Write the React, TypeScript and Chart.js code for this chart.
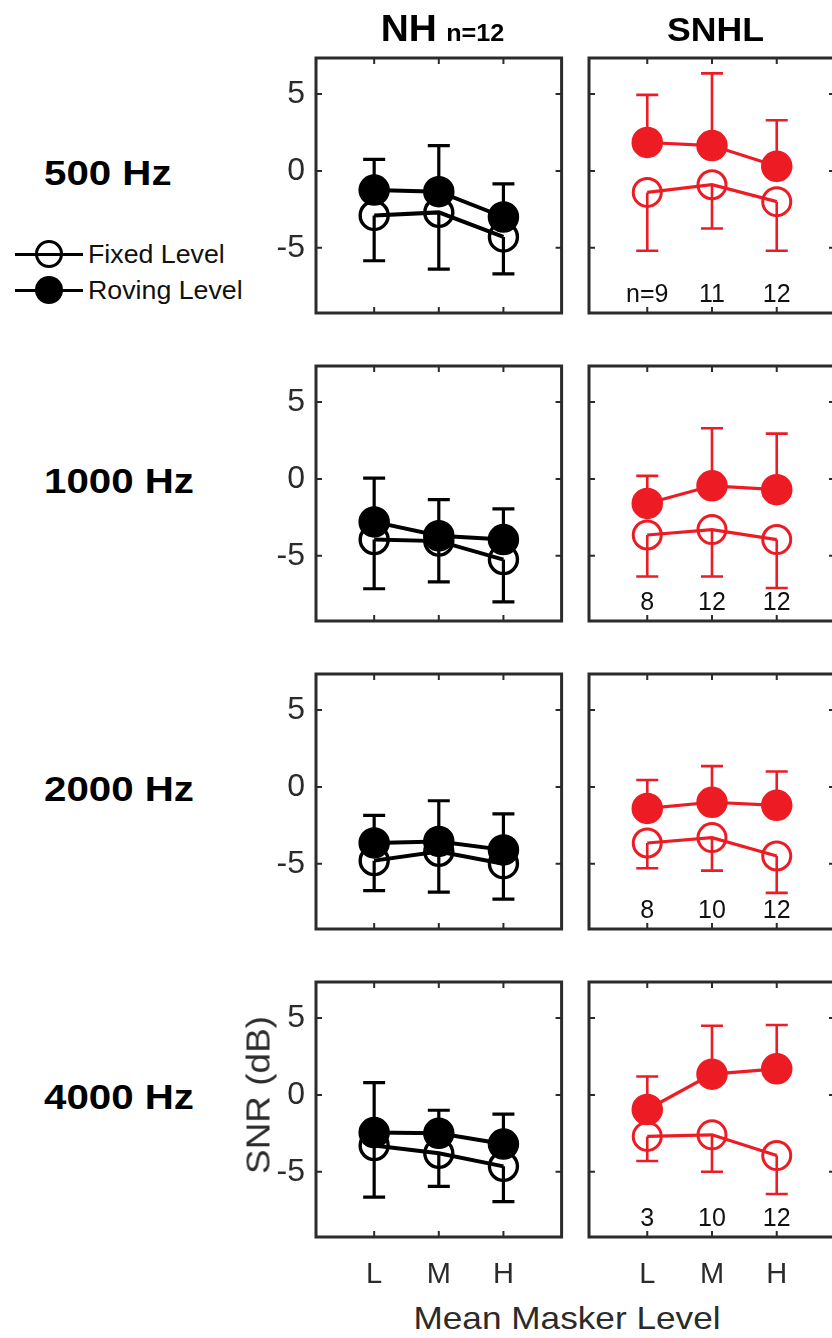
import React, { useEffect, useRef } from 'react';
import { Chart, registerables } from 'chart.js';

Chart.register(...registerables);

// ---------- data ----------
const levels = ['L', 'M', 'H'];
const levelX = [1, 2, 3];
const yTickValues = [-5, 0, 5];
const frequencies = ['500 Hz', '1000 Hz', '2000 Hz', '4000 Hz'];
const groups = ['NH', 'SNHL'];
const nhCount = 'n=12';
const legendLabels = ['Fixed Level', 'Roving Level'];
const yTitle = 'SNR (dB)';
const xTitle = 'Mean Masker Level';

// Normal hearing (NH)
const nh500Fixed = [-2.9, -2.7, -4.3];
const nh500FixedLow = [-5.85, -6.4, -6.7];
const nh500Roving = [-1.25, -1.35, -3.0];
const nh500RovingHigh = [0.75, 1.65, -0.85];

const nh1000Fixed = [-3.95, -4.05, -5.25];
const nh1000FixedLow = [-7.15, -6.7, -8.0];
const nh1000Roving = [-2.8, -3.7, -3.95];
const nh1000RovingHigh = [0.05, -1.35, -1.95];

const nh2000Fixed = [-4.8, -4.2, -5.0];
const nh2000FixedLow = [-6.75, -6.85, -7.3];
const nh2000Roving = [-3.65, -3.55, -4.1];
const nh2000RovingHigh = [-1.85, -0.9, -1.75];

const nh4000Fixed = [-3.3, -3.8, -4.65];
const nh4000FixedLow = [-6.65, -5.95, -6.95];
const nh4000Roving = [-2.45, -2.5, -3.2];
const nh4000RovingHigh = [0.8, -1.0, -1.25];

// Sensorineural hearing loss (SNHL)
const snhl500Fixed = [-1.4, -0.9, -2.0];
const snhl500FixedLow = [-5.2, -3.75, -5.2];
const snhl500Roving = [1.85, 1.65, 0.3];
const snhl500RovingHigh = [4.95, 6.35, 3.3];
const snhl500N = ['n=9', '11', '12'];

const snhl1000Fixed = [-3.65, -3.3, -3.95];
const snhl1000FixedLow = [-6.35, -6.35, -7.1];
const snhl1000Roving = [-1.6, -0.45, -0.7];
const snhl1000RovingHigh = [0.2, 3.3, 2.95];
const snhl1000N = ['8', '12', '12'];

const snhl2000Fixed = [-3.65, -3.3, -4.5];
const snhl2000FixedLow = [-5.3, -5.45, -6.9];
const snhl2000Roving = [-1.4, -1.0, -1.2];
const snhl2000RovingHigh = [0.45, 1.35, 1.0];
const snhl2000N = ['8', '10', '12'];

const snhl4000Fixed = [-2.7, -2.6, -3.95];
const snhl4000FixedLow = [-4.3, -5.0, -6.45];
const snhl4000Roving = [-0.95, 1.35, 1.7];
const snhl4000RovingHigh = [1.2, 4.5, 4.55];
const snhl4000N = ['3', '10', '12'];

// ---------- styling / layout ----------
const FONT = '"Liberation Sans", Arial, Helvetica, sans-serif';
const BLACK = '#000000';
const RED = '#ED1C24';
const AXIS = '#2b2b2b';
const Y_MIN = -9.25;
const Y_MAX = 7.35;
const X_MIN = 0.1;
const X_MAX = 3.9;
const N_LABEL_Y = -8.1;

const PANEL_W = 253;
const PANEL_H = 255;
const PL = 70;
const PT = 40;
const PR = 10;
const PB = 60;
const CW = PL + PANEL_W + PR;
const CH = PT + PANEL_H + PB;
const COL_LEFT = [316, 589];
const ROW_TOP = [58, 366, 674, 982];

type PanelSpec = {
  fixed: number[];
  fixedLow: number[];
  roving: number[];
  rovingHigh: number[];
  color: string;
  showY: boolean;
  showX: boolean;
  nLabels: string[] | null;
};

const nhSeries = [
  [nh500Fixed, nh500FixedLow, nh500Roving, nh500RovingHigh],
  [nh1000Fixed, nh1000FixedLow, nh1000Roving, nh1000RovingHigh],
  [nh2000Fixed, nh2000FixedLow, nh2000Roving, nh2000RovingHigh],
  [nh4000Fixed, nh4000FixedLow, nh4000Roving, nh4000RovingHigh],
];
const snhlSeries = [
  [snhl500Fixed, snhl500FixedLow, snhl500Roving, snhl500RovingHigh],
  [snhl1000Fixed, snhl1000FixedLow, snhl1000Roving, snhl1000RovingHigh],
  [snhl2000Fixed, snhl2000FixedLow, snhl2000Roving, snhl2000RovingHigh],
  [snhl4000Fixed, snhl4000FixedLow, snhl4000Roving, snhl4000RovingHigh],
];
const snhlN = [snhl500N, snhl1000N, snhl2000N, snhl4000N];

const panelDecor = {
  id: 'panelDecor',
  beforeDatasetsDraw(chart: any) {
    const { ctx, chartArea: a, scales } = chart;
    const x = scales.x;
    const y = scales.y;
    ctx.save();
    ctx.beginPath();
    ctx.rect(a.left, a.top, a.right - a.left, a.bottom - a.top);
    ctx.clip();
    chart.data.datasets.forEach((ds: any) => {
      const bound: number[] = ds.errorBound;
      ctx.strokeStyle = ds.errorColor;
      ctx.lineWidth = ds.errorWidth;
      ctx.lineCap = 'butt';
      ds.data.forEach((pt: any, i: number) => {
        const px = x.getPixelForValue(pt.x);
        const py = y.getPixelForValue(pt.y);
        const pb = y.getPixelForValue(bound[i]);
        ctx.beginPath();
        ctx.moveTo(px, py);
        ctx.lineTo(px, pb);
        ctx.moveTo(px - 11, pb);
        ctx.lineTo(px + 11, pb);
        ctx.stroke();
      });
    });
    ctx.restore();
  },
  afterDatasetsDraw(chart: any, _args: any, opts: any) {
    const { ctx, chartArea: a, scales } = chart;
    const x = scales.x;
    const y = scales.y;
    ctx.save();
    ctx.strokeStyle = AXIS;
    ctx.lineWidth = 2;
    yTickValues.forEach((v) => {
      const py = y.getPixelForValue(v);
      ctx.beginPath();
      ctx.moveTo(a.left, py);
      ctx.lineTo(a.left + 6, py);
      ctx.moveTo(a.right, py);
      ctx.lineTo(a.right - 6, py);
      ctx.stroke();
    });
    levelX.forEach((v) => {
      const px = x.getPixelForValue(v);
      ctx.beginPath();
      ctx.moveTo(px, a.top);
      ctx.lineTo(px, a.top + 6);
      ctx.moveTo(px, a.bottom);
      ctx.lineTo(px, a.bottom - 6);
      ctx.stroke();
    });
    ctx.lineWidth = 3;
    ctx.strokeRect(a.left, a.top, a.right - a.left, a.bottom - a.top);
    if (opts && opts.nLabels) {
      ctx.fillStyle = '#111';
      ctx.font = `25px ${FONT}`;
      ctx.textAlign = 'center';
      ctx.textBaseline = 'middle';
      const py = y.getPixelForValue(N_LABEL_Y);
      opts.nLabels.forEach((t: string, i: number) => {
        ctx.fillText(t, x.getPixelForValue(levelX[i]), py);
      });
    }
    ctx.restore();
  },
};

function PanelChart({ spec, left, top }: { spec: PanelSpec; left: number; top: number }) {
  const ref = useRef<HTMLCanvasElement | null>(null);
  useEffect(() => {
    if (!ref.current) return;
    const c = spec.color;
    const isRed = c === RED;
    const chart = new Chart(ref.current, {
      type: 'line',
      data: {
        datasets: [
          {
            label: legendLabels[1],
            data: levelX.map((xv, i) => ({ x: xv, y: spec.roving[i] })),
            borderColor: c,
            backgroundColor: c,
            pointBackgroundColor: c,
            pointBorderColor: c,
            pointRadius: 15,
            pointBorderWidth: 1.5,
            borderWidth: isRed ? 3.2 : 4,
            tension: 0,
            order: 0,
            errorBound: spec.rovingHigh,
            errorColor: c,
            errorWidth: isRed ? 2.6 : 3.2,
          } as any,
          {
            label: legendLabels[0],
            data: levelX.map((xv, i) => ({ x: xv, y: spec.fixed[i] })),
            borderColor: c,
            backgroundColor: 'rgba(0,0,0,0)',
            pointBackgroundColor: 'rgba(0,0,0,0)',
            pointBorderColor: c,
            pointRadius: 14,
            pointBorderWidth: isRed ? 3 : 3.4,
            borderWidth: isRed ? 3.2 : 4,
            tension: 0,
            order: 1,
            errorBound: spec.fixedLow,
            errorColor: c,
            errorWidth: isRed ? 2.6 : 3.2,
          } as any,
        ],
      },
      options: {
        animation: false,
        responsive: false,
        maintainAspectRatio: false,
        devicePixelRatio: 1,
        layout: { padding: { top: PT, right: PR, left: 0, bottom: 0 } },
        plugins: {
          legend: { display: false },
          tooltip: { enabled: false },
          title: { display: false },
          panelDecor: { nLabels: spec.nLabels },
        } as any,
        scales: {
          x: {
            type: 'linear',
            min: X_MIN,
            max: X_MAX,
            grid: { display: false, drawTicks: false },
            border: { display: false },
            afterBuildTicks: (s: any) => {
              s.ticks = levelX.map((v) => ({ value: v }));
            },
            afterFit: (s: any) => {
              s.height = PB;
              s.paddingLeft = 0;
              s.paddingRight = 0;
            },
            ticks: {
              display: spec.showX,
              autoSkip: false,
              maxRotation: 0,
              padding: 21,
              color: AXIS,
              font: { family: FONT, size: 29 },
              callback: (v: any) => levels[levelX.indexOf(Number(v))],
            },
          },
          y: {
            type: 'linear',
            min: Y_MIN,
            max: Y_MAX,
            grid: { display: false, drawTicks: false },
            border: { display: false },
            afterBuildTicks: (s: any) => {
              s.ticks = yTickValues.map((v) => ({ value: v }));
            },
            afterFit: (s: any) => {
              s.width = PL;
              s.paddingTop = 0;
              s.paddingBottom = 0;
            },
            ticks: {
              display: spec.showY,
              padding: 11,
              color: AXIS,
              font: { family: FONT, size: 32 },
              callback: (v: any) => String(v),
            },
          },
        },
      },
      plugins: [panelDecor as any],
    });
    return () => chart.destroy();
  }, [spec]);
  return (
    <canvas
      ref={ref}
      width={CW}
      height={CH}
      style={{ position: 'absolute', left, top, width: CW, height: CH }}
    />
  );
}

function Txt({
  x,
  y,
  size,
  bold,
  color,
  anchor,
  sx,
  rotate,
  children,
}: {
  x: number;
  y: number;
  size: number;
  bold?: boolean;
  color?: string;
  anchor?: 'left' | 'center';
  sx?: number;
  rotate?: number;
  children: React.ReactNode;
}) {
  const a = anchor || 'left';
  const tx = a === 'center' ? '-50%' : '0';
  return (
    <div
      style={{
        position: 'absolute',
        left: x,
        top: y,
        transform: `translate(${tx}, -50%)${rotate ? ` rotate(${rotate}deg)` : ''} scaleX(${sx || 1})`,
        transformOrigin: a === 'center' ? 'center center' : 'left center',
        fontFamily: FONT,
        fontSize: size,
        fontWeight: bold ? 'bold' : 'normal',
        color: color || '#000',
        lineHeight: 1,
        whiteSpace: 'nowrap',
      }}
    >
      {children}
    </div>
  );
}

function LegendRow({ y, filled, label }: { y: number; filled: boolean; label: string }) {
  return (
    <>
      <div style={{ position: 'absolute', left: 15, top: y - 1.5, width: 68, height: 3, background: BLACK }} />
      <div
        style={{
          position: 'absolute',
          left: 49 - 14,
          top: y - 14,
          width: filled ? 28 : 22,
          height: filled ? 28 : 22,
          borderRadius: '50%',
          background: filled ? BLACK : 'transparent',
          border: filled ? 'none' : `3px solid ${BLACK}`,
        }}
      />
      <Txt x={88} y={y} size={25} sx={1.07} color="#111">
        {label}
      </Txt>
    </>
  );
}

export default function App() {
  const panels: { spec: PanelSpec; left: number; top: number; key: string }[] = [];
  ROW_TOP.forEach((rt, r) => {
    const [f, fl, rv, rh] = nhSeries[r];
    panels.push({
      key: `nh${r}`,
      left: COL_LEFT[0] - PL,
      top: rt - PT,
      spec: { fixed: f, fixedLow: fl, roving: rv, rovingHigh: rh, color: BLACK, showY: true, showX: r === 3, nLabels: null },
    });
    const [sf, sfl, srv, srh] = snhlSeries[r];
    panels.push({
      key: `snhl${r}`,
      left: COL_LEFT[1] - PL,
      top: rt - PT,
      spec: { fixed: sf, fixedLow: sfl, roving: srv, rovingHigh: srh, color: RED, showY: false, showX: r === 3, nLabels: snhlN[r] },
    });
  });

  return (
    <div
      style={{
        position: 'absolute',
        left: 0,
        top: 0,
        width: 832,
        height: 1338,
        overflow: 'hidden',
        background: '#fff',
      }}
    >
      {panels.map((p) => (
        <PanelChart key={p.key} spec={p.spec} left={p.left} top={p.top} />
      ))}

      {/* column titles */}
      <div
        style={{
          position: 'absolute',
          left: COL_LEFT[0],
          width: PANEL_W,
          top: 10,
          display: 'flex',
          justifyContent: 'center',
          alignItems: 'baseline',
          fontFamily: FONT,
          fontWeight: 'bold',
          lineHeight: 1,
          transform: 'scaleX(1.05)',
        }}
      >
        <span style={{ fontSize: 37 }}>{groups[0]}</span>
        <span style={{ fontSize: 24, marginLeft: 9 }}>{nhCount}</span>
      </div>
      <div
        style={{
          position: 'absolute',
          left: COL_LEFT[1],
          width: PANEL_W,
          top: 13,
          textAlign: 'center',
          fontFamily: FONT,
          fontWeight: 'bold',
          fontSize: 33,
          lineHeight: 1,
          transform: 'scaleX(1.08)',
        }}
      >
        {groups[1]}
      </div>

      {/* row labels */}
      {frequencies.map((f, i) => (
        <Txt key={f} x={44} y={172 + 308 * i} size={35} bold sx={1.15}>
          {f}
        </Txt>
      ))}

      {/* legend */}
      <LegendRow y={254} filled={false} label={legendLabels[0]} />
      <LegendRow y={290} filled={true} label={legendLabels[1]} />

      {/* axis titles */}
      <Txt x={258} y={1095} size={33} color={AXIS} anchor="center" rotate={-90} sx={1.12}>
        {yTitle}
      </Txt>
      <Txt x={567} y={1318} size={32} color={AXIS} anchor="center" sx={1.1}>
        {xTitle}
      </Txt>
    </div>
  );
}
